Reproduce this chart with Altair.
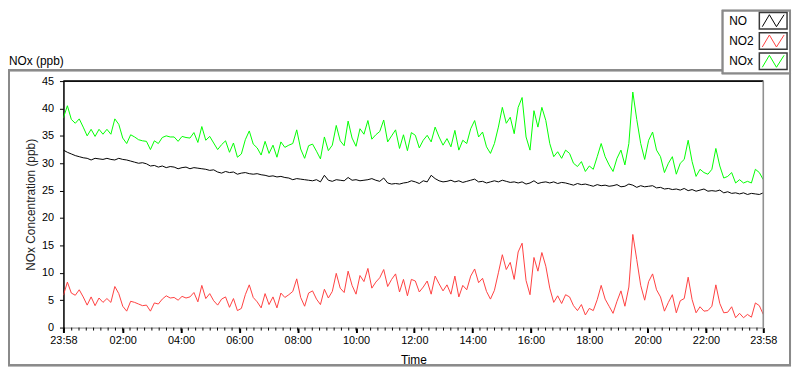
import altair as alt
import numpy as np
import pandas as pd

# ---------------- data ----------------
SERIES = ["NO", "NO2", "NOx"]
COLORS = ["#000000", "#ff4040", "#00ff00"]

NO = [
    32.4, 32.0, 31.7, 31.4, 31.2, 31.0, 30.9, 30.6, 30.9, 30.8,
    30.7, 30.9, 30.7, 30.6, 30.9, 30.7, 30.6, 30.4, 30.2, 30.0,
    30.1, 29.9, 29.5, 29.6, 29.3, 29.5, 29.2, 29.4, 29.3, 29.0,
    29.2, 29.3, 29.0, 29.2, 29.1, 29.0, 28.9, 28.7, 28.8, 28.4,
    28.2, 28.5, 28.3, 28.4, 28.0,
    28.2, 28.3, 28.1, 28.0, 28.1, 27.9, 27.8, 27.6, 27.7, 27.5,
    27.6, 27.4, 27.3, 27.0, 27.2, 27.1, 27.0, 26.9, 26.8, 27.0,
    26.6, 27.8, 26.9, 26.7, 27.0, 26.9, 26.8, 27.4, 26.9, 27.0,
    26.8, 26.9, 27.0, 27.2, 26.9, 26.7, 27.3, 26.4, 26.2, 26.3,
    26.2, 26.4, 26.5, 26.8,
    26.6, 26.3, 26.8, 26.6, 27.8, 27.2, 26.8, 26.6, 26.7, 26.9,
    26.6, 26.8, 26.5, 26.7, 26.9, 27.1, 26.6, 26.7, 26.4, 26.6,
    26.8, 26.6, 26.9, 26.7, 26.5, 26.6, 26.4, 26.6, 26.2, 26.4,
    26.8, 26.3, 26.5, 26.6, 26.4, 26.6, 26.3, 26.5, 26.4, 26.2,
    26.0, 26.3, 26.1, 26.2,
    26.0, 25.8, 26.1, 25.9, 26.0, 25.8, 25.9, 26.1, 25.7, 25.8,
    26.2, 26.0, 25.6, 25.9, 25.7, 25.8, 25.9, 25.5, 25.6, 25.3,
    25.4, 25.2, 25.3, 25.1, 25.4, 25.0, 25.2, 24.9, 25.1, 25.3,
    24.9, 25.0, 24.9, 25.1, 24.6, 24.8, 24.5, 24.6, 24.4, 24.6,
    24.3, 24.5, 24.4, 24.3, 24.6,
]

NO2 = [
    5.9, 8.3, 6.3, 5.9, 6.9, 5.6, 4.1, 5.6, 4.0, 5.4,
    4.6, 5.3, 4.6, 7.5, 6.2, 3.9, 3.0, 4.8, 4.6, 4.3,
    4.0, 4.1, 3.0, 4.5, 4.3, 5.2, 5.8, 5.4, 5.5, 5.0,
    5.7, 5.4, 5.6, 6.4, 4.7, 7.7, 5.3, 6.2, 4.9, 4.1,
    5.2, 5.6, 3.7, 5.3, 3.1,
    3.5, 6.0, 7.8, 5.5, 4.7, 3.6, 6.2, 4.2, 5.6, 3.6,
    6.3, 5.5, 6.0, 6.6, 8.9, 5.5, 3.9, 6.3, 6.7, 5.2,
    4.2, 7.0, 5.4, 6.6, 9.9, 7.2, 6.4, 10.3, 7.7, 6.1,
    9.5, 8.4, 10.8, 7.2, 8.3, 9.1, 10.6, 7.5, 8.8, 9.8,
    6.5, 8.8, 5.8, 8.8,
    8.5, 6.5, 7.4, 8.5, 6.1, 9.4, 8.0, 6.7, 7.8, 6.1,
    9.4, 5.6, 7.7, 6.9, 9.4, 10.7, 8.2, 9.0, 6.6, 5.2,
    6.8, 10.0, 13.3, 10.6, 11.9, 8.8, 13.8, 15.4, 8.6, 6.0,
    12.8, 10.3, 13.7, 11.2, 7.2, 4.6, 5.8, 4.4, 6.0, 5.6,
    4.0, 3.1, 4.2, 2.3,
    3.5, 3.1, 5.1, 7.7, 5.2, 3.9, 2.6, 4.8, 6.7, 3.9,
    7.4, 17.0, 12.4, 7.7, 5.0, 8.4, 9.8, 6.9, 5.6, 3.0,
    4.6, 6.0, 2.7, 4.9, 5.3, 9.2, 5.1, 2.7, 3.8, 3.0,
    3.1, 3.9, 7.8, 4.4, 2.7, 2.8, 3.8, 1.8, 2.6, 1.8,
    2.4, 1.9, 4.5, 4.0, 2.4,
]

NOX = [
    38.3, 40.5, 38.0, 37.3, 38.1, 36.6, 35.0, 36.2, 34.9, 36.2,
    35.3, 36.2, 35.3, 38.1, 37.1, 34.6, 33.6, 35.2, 34.8, 34.3,
    34.1, 34.0, 32.5, 34.1, 33.6, 34.7, 35.0, 34.8, 34.8, 34.0,
    34.9, 34.7, 34.6, 35.6, 33.8, 36.7, 34.2, 34.9, 33.7, 32.5,
    33.4, 34.1, 32.0, 33.7, 31.1,
    31.7, 34.3, 35.9, 33.5, 32.8, 31.5, 34.0, 31.8, 33.3, 31.1,
    33.9, 32.9, 33.3, 33.6, 36.1, 32.6, 30.9, 33.2, 33.5, 32.2,
    30.8, 34.8, 32.3, 33.3, 36.9, 34.1, 33.2, 37.7, 34.6, 33.1,
    36.3, 35.3, 37.8, 34.4, 35.2, 35.8, 37.9, 33.9, 35.0, 36.1,
    32.7, 35.2, 32.3, 35.6,
    35.1, 32.8, 34.2, 35.1, 33.9, 36.6, 34.8, 33.3, 34.5, 33.0,
    36.0, 32.4, 34.2, 33.6, 36.3, 37.8, 34.8, 35.7, 33.0, 31.8,
    33.6, 36.6, 40.2, 37.3, 38.4, 35.4, 40.2, 42.0, 34.8, 32.4,
    39.6, 36.6, 40.2, 37.8, 33.6, 31.2, 32.1, 30.9, 32.4, 31.8,
    30.0, 29.4, 30.3, 28.5,
    29.5, 28.9, 31.2, 33.6, 31.2, 29.7, 28.5, 30.9, 32.4, 29.7,
    33.6, 43.0, 38.0, 33.6, 30.7, 34.2, 35.7, 32.4, 31.2, 28.3,
    30.0, 31.2, 28.0, 30.0, 30.7, 34.2, 30.3, 27.6, 28.9, 28.3,
    28.0, 28.9, 32.7, 29.5, 27.3, 27.6, 28.3, 26.4, 27.0, 26.4,
    26.7, 26.4, 28.9, 28.3, 27.0,
]

# x axis: minutes after the 23:58 start, 24 h span
TICK_MINUTES = [0, 122, 242, 362, 482, 602, 722, 842, 962, 1082, 1202, 1322, 1440]
TICK_LABELS = ["23:58", "02:00", "04:00", "06:00", "08:00", "10:00", "12:00",
               "14:00", "16:00", "18:00", "20:00", "22:00", "23:58"]
MINOR_TICKS = list(range(2, 1440, 15))
Y_TICKS = list(range(0, 46, 5))

X_TITLE = "Time"
Y_TITLE = "NOx Concentration (ppb)"
PANEL_TITLE = "NOx (ppb)"

FONT = "Liberation Sans"
W, H = 707, 249

# ---------------- tables ----------------
n = len(NO)
minutes = np.linspace(0, 1440, n)
df = pd.DataFrame({
    "t": np.concatenate([minutes, minutes, minutes]),
    "value": NO + NO2 + NOX,
    "series": [SERIES[0]] * n + [SERIES[1]] * n + [SERIES[2]] * n,
})
legend_df = pd.DataFrame({"series": SERIES})
minor_df = pd.DataFrame({"t": MINOR_TICKS})

label_map = "{" + ",".join(f"'{m}':'{l}'" for m, l in zip(TICK_MINUTES, TICK_LABELS)) + "}"

color_scale = alt.Scale(domain=SERIES, range=COLORS)
xscale = alt.Scale(domain=[0, 1440], nice=False, zero=False)

# ---------------- layers ----------------
frame = alt.Chart(legend_df).mark_rect(fillOpacity=0, stroke="#8a8a8a", strokeWidth=2).encode(
    x=alt.value(-55), x2=alt.value(734), y=alt.value(-11), y2=alt.value(287)
)

panel_title = alt.Chart(pd.DataFrame({"label": [PANEL_TITLE]})).mark_text(
    align="left", baseline="middle", fontSize=12, color="#000", font=FONT
).encode(text="label:N", x=alt.value(-55), y=alt.value(-20))

top_rule = alt.Chart(legend_df).mark_rule(color="#000", strokeWidth=1).encode(
    x=alt.value(0), x2=alt.value(W), y=alt.value(0)
)
right_rule = alt.Chart(legend_df).mark_rule(color="#909090", strokeWidth=1).encode(
    x=alt.value(W), y=alt.value(0), y2=alt.value(H)
)

lines = alt.Chart(df).mark_line(strokeWidth=1, clip=True).encode(
    x=alt.X("t:Q", scale=xscale,
            axis=alt.Axis(values=TICK_MINUTES, labelExpr=label_map + "[datum.value]",
                          title=X_TITLE, grid=False, tickSize=5, tickWidth=2,
                          tickColor="#000", domainColor="#909090", domainWidth=1,
                          labelPadding=2, labelFlush=False, labelOverlap=False,
                          labelFontSize=11, labelColor="#000", labelFont=FONT,
                          titleFontSize=12, titleFontWeight="normal", titleColor="#000",
                          titleFont=FONT, titleX=W / 2, titleY=32,
                          titleBaseline="middle", titleAlign="center")),
    y=alt.Y("value:Q", scale=alt.Scale(domain=[0, 45], nice=False),
            axis=alt.Axis(values=Y_TICKS, title=Y_TITLE, grid=False, tickSize=4,
                          tickColor="#000", domainColor="#000", domainWidth=1.5,
                          labelPadding=6, labelFontSize=11, labelColor="#000",
                          labelFont=FONT, titleFontSize=12, titleFontWeight="normal",
                          titleColor="#222", titleFont=FONT, titleAngle=270,
                          titleX=-33, titleY=H / 2, titleBaseline="middle",
                          titleAlign="center")),
    color=alt.Color("series:N", scale=color_scale, legend=None),
)

minor = alt.Chart(minor_df).mark_rule(color="#000", strokeWidth=1).encode(
    x=alt.X("t:Q", scale=xscale), y=alt.value(H), y2=alt.value(H + 3)
)

legend_box = alt.Chart(legend_df).mark_rect(fill="white", stroke="#8a8a8a", strokeWidth=2).encode(
    x=alt.value(666), x2=alt.value(734), y=alt.value(-71), y2=alt.value(-8)
)

leg_y = alt.Y("series:N", scale=alt.Scale(type="point", domain=SERIES, range=[-61, -20], padding=0),
              axis=None)

legend_text = alt.Chart(legend_df).mark_text(
    align="left", baseline="middle", fontSize=12, color="#000", font=FONT
).encode(text="series:N", x=alt.value(672.5), y=leg_y)

legend_swatch = alt.Chart(legend_df).mark_point(
    shape="M-1,-0.6H1V0.6H-1Z", size=784, filled=False, color="#3a3a3a",
    strokeWidth=1.5, opacity=1
).encode(x=alt.value(717), y=leg_y)

legend_zig = alt.Chart(legend_df).mark_point(
    shape="M-1,0.55L-0.35,-0.55L0.3,0.55L1,-0.55", size=484, filled=False,
    strokeWidth=1, opacity=1
).encode(x=alt.value(717), y=leg_y,
         color=alt.Color("series:N", scale=color_scale, legend=None))

chart = alt.layer(
    frame, panel_title, lines, top_rule, right_rule, minor,
    legend_box, legend_text, legend_swatch, legend_zig
).resolve_scale(y="independent").properties(
    width=W, height=H,
    autosize=alt.AutoSizeParams(type="none"),
    padding={"left": 56, "top": 72, "right": 29, "bottom": 40},
    background="white",
).configure_view(stroke=None).configure(font=FONT)

chart.save("out.html", embed_options={"renderer": "svg", "actions": False})
